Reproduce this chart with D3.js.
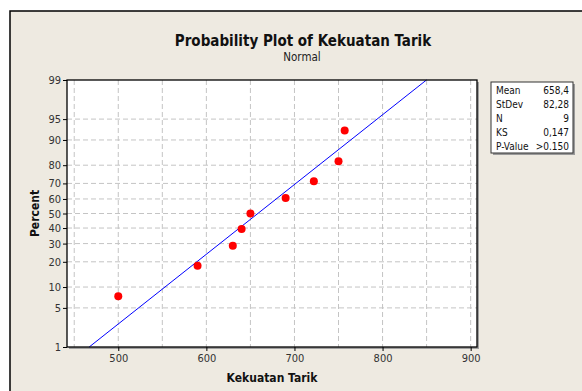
<!DOCTYPE html>
<html>
  <head>
    <script src="https://d3js.org/d3.v7.min.js"></script>
    <style>
      body { margin: 0; background: #fff; }
      text { font-family: "DejaVu Sans Condensed", "DejaVu Sans", sans-serif; }
    </style>
  </head>
  <body>
    <script>

// data
const strength = [500, 590, 630, 640, 650, 690, 722, 750, 757];
const percent = [7.45, 18.1, 28.7, 39.4, 50, 60.6, 71.3, 81.9, 92.6];
const yTicks = [1, 5, 10, 20, 30, 40, 50, 60, 70, 80, 90, 95, 99];
const xTicks = [500, 600, 700, 800, 900];
const xGrid = [450, 500, 550, 600, 650, 700, 750, 800, 850, 900];
const statNames = ["Mean", "StDev", "N", "KS", "P-Value"];
const statValues = ["658,4", "82,28", "9", "0,147", ">0.150"];
const mean = 658.4;
const sd = 82.28;
const fitRange = [1, 99];

// inverse normal cdf (Acklam)
function probit(p) {
  const a = [-39.69683028665376, 220.9460984245205, -275.9285104469687, 138.3577518672690, -30.66479806614716, 2.506628277459239];
  const b = [-54.47609879822406, 161.5858368580409, -155.6989798598866, 66.80131188771972, -13.28068155288572];
  const c = [-0.007784894002430293, -0.3223964580411365, -2.400758277161838, -2.549732539343734, 4.374664141464968, 2.938163982698783];
  const d = [0.007784695709041462, 0.3224671290700398, 2.445134137142996, 3.754408661907416];
  const pl = 0.02425;
  let q, r;
  if (p < pl) {
    q = Math.sqrt(-2 * Math.log(p));
    return (((((c[0]*q+c[1])*q+c[2])*q+c[3])*q+c[4])*q+c[5]) / ((((d[0]*q+d[1])*q+d[2])*q+d[3])*q+1);
  } else if (p <= 1 - pl) {
    q = p - 0.5; r = q * q;
    return (((((a[0]*r+a[1])*r+a[2])*r+a[3])*r+a[4])*r+a[5])*q / (((((b[0]*r+b[1])*r+b[2])*r+b[3])*r+b[4])*r+1);
  }
  q = Math.sqrt(-2 * Math.log(1 - p));
  return -(((((c[0]*q+c[1])*q+c[2])*q+c[3])*q+c[4])*q+c[5]) / ((((d[0]*q+d[1])*q+d[2])*q+d[3])*q+1);
}

const width = 582, height = 391;
const plot = { left: 67, right: 477, top: 80, bottom: 347 };

const x = d3.scaleLinear().domain([441.8, 907.2]).range([plot.left, plot.right]);
const zScale = d3.scaleLinear().domain([probit(0.01), probit(0.99)]).range([plot.bottom, plot.top]);
const y = p => zScale(probit(p / 100));

const svg = d3.select("body").append("svg")
    .attr("width", width)
    .attr("height", height);

svg.append("rect").attr("width", width).attr("height", height).attr("fill", "#fff");
svg.append("rect")
    .attr("x", 10).attr("y", 11)
    .attr("width", 640).attr("height", 420)
    .attr("fill", "#eeeae1")
    .attr("stroke", "#000")
    .attr("stroke-width", 1.5);

// title
svg.append("text")
    .attr("x", 303).attr("y", 46)
    .attr("text-anchor", "middle")
    .attr("font-size", 15).attr("font-weight", "bold")
    .attr("fill", "#111")
    .text("Probability Plot of Kekuatan Tarik");
svg.append("text")
    .attr("x", 302).attr("y", 61)
    .attr("text-anchor", "middle")
    .attr("font-size", 11.5)
    .attr("fill", "#222")
    .text("Normal");

// plot area
svg.append("rect")
    .attr("x", plot.left + 2).attr("y", plot.top + 2)
    .attr("width", plot.right - plot.left).attr("height", plot.bottom - plot.top)
    .attr("fill", "#a0a0a0");
svg.append("rect")
    .attr("x", plot.left).attr("y", plot.top)
    .attr("width", plot.right - plot.left).attr("height", plot.bottom - plot.top)
    .attr("fill", "#fff");

const grid = svg.append("g")
    .attr("stroke", "#c4c4c4")
    .attr("stroke-dasharray", "5,3");
grid.selectAll(".gx").data(xGrid).join("line")
    .attr("x1", d => x(d)).attr("x2", d => x(d))
    .attr("y1", plot.top).attr("y2", plot.bottom);
grid.selectAll(".gy").data(yTicks.filter(d => d > 1 && d < 99)).join("line")
    .attr("x1", plot.left).attr("x2", plot.right)
    .attr("y1", d => y(d)).attr("y2", d => y(d));

// fitted line
svg.append("line")
    .attr("x1", x(mean + sd * probit(fitRange[0] / 100)))
    .attr("y1", y(fitRange[0]))
    .attr("x2", x(mean + sd * probit(fitRange[1] / 100)))
    .attr("y2", y(fitRange[1]))
    .attr("stroke", "#0000ff")
    .attr("stroke-width", 1);

// points
svg.selectAll(".pt").data(strength).join("circle")
    .attr("cx", d => x(d))
    .attr("cy", (d, i) => y(percent[i]))
    .attr("r", 4)
    .attr("fill", "#ff0000");

svg.append("rect")
    .attr("x", plot.left).attr("y", plot.top)
    .attr("width", plot.right - plot.left).attr("height", plot.bottom - plot.top)
    .attr("fill", "none")
    .attr("stroke", "#000")
    .attr("stroke-width", 1.3);

// axes
const xAxis = svg.append("g")
    .attr("transform", `translate(0,${plot.bottom})`)
    .call(d3.axisBottom(x).tickValues(xTicks).tickSize(4).tickSizeOuter(0).tickPadding(3));
const yAxis = svg.append("g")
    .attr("transform", `translate(${plot.left},0)`)
    .call(d3.axisLeft(zScale).tickValues(yTicks.map(d => probit(d / 100)))
      .tickFormat((d, i) => yTicks[i]).tickSize(4).tickSizeOuter(0).tickPadding(2));
[xAxis, yAxis].forEach(g => {
  g.select(".domain").remove();
  g.selectAll("line").attr("stroke", "#000");
  g.selectAll("text").attr("font-size", 11).attr("fill", "#333").style("font-family", null);
  g.attr("font-family", null);
});

svg.append("text")
    .attr("x", 272).attr("y", 382)
    .attr("text-anchor", "middle")
    .attr("font-size", 12).attr("font-weight", "bold")
    .attr("fill", "#111")
    .text("Kekuatan Tarik");
svg.append("text")
    .attr("transform", `translate(39,${(plot.top + plot.bottom) / 2}) rotate(-90)`)
    .attr("text-anchor", "middle")
    .attr("font-size", 12).attr("font-weight", "bold")
    .attr("fill", "#111")
    .text("Percent");

// stats box
const box = svg.append("g").attr("transform", "translate(491,82)");
box.append("rect").attr("x", 2).attr("y", 2).attr("width", 82).attr("height", 71).attr("fill", "#9a9a9a");
box.append("rect").attr("width", 82).attr("height", 71).attr("fill", "#fff").attr("stroke", "#333");
box.selectAll(".sn").data(statNames).join("text")
    .attr("x", 5).attr("y", (d, i) => 11.5 + i * 14)
    .attr("font-size", 10).attr("fill", "#111")
    .text(d => d);
box.selectAll(".sv").data(statValues).join("text")
    .attr("x", 78).attr("y", (d, i) => 11.5 + i * 14)
    .attr("text-anchor", "end")
    .attr("font-size", 10).attr("fill", "#111")
    .text(d => d);

    </script>
  </body>
</html>
